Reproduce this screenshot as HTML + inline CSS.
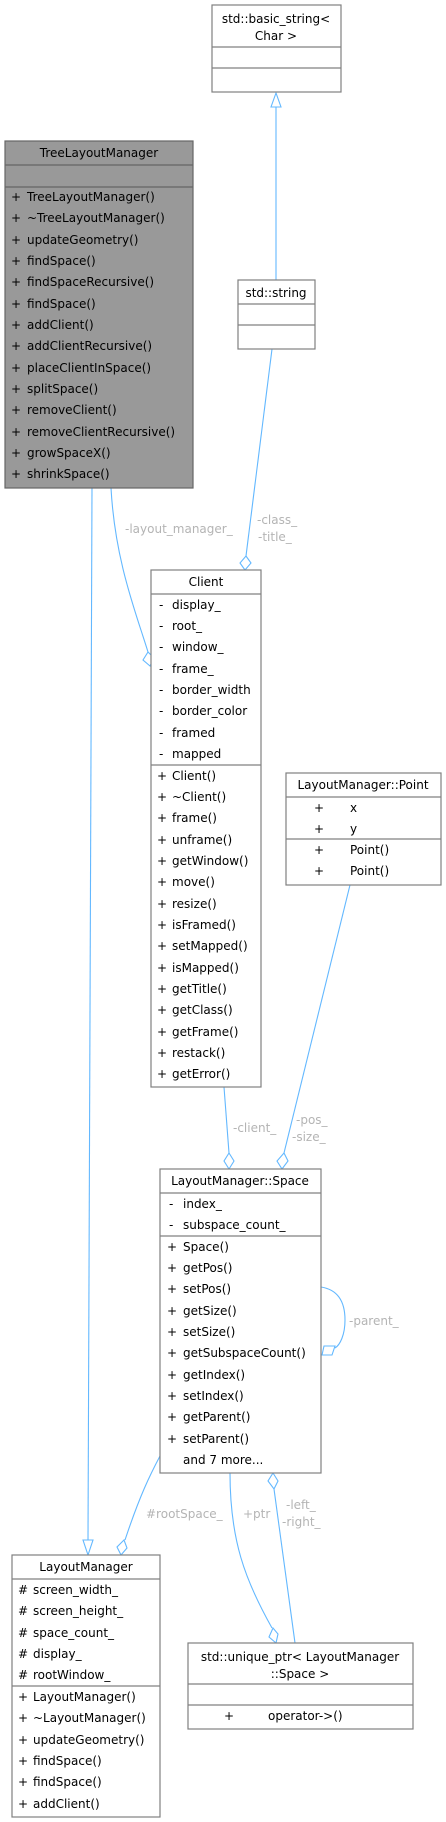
<!DOCTYPE html>
<html><head><meta charset="utf-8"><style>
html,body{margin:0;padding:0;background:#fff}
svg{display:block}
text{font-family:"DejaVu Sans","Liberation Sans",sans-serif;font-size:12px;fill:#000}
.l{fill:#b4b4b4}
.b{fill:#fff;stroke:#808080;stroke-width:1.2}
.s{stroke:#808080;stroke-width:1.2}
.e{fill:none;stroke:#63b8ff;stroke-width:1.1}
.d{fill:#fff;stroke:#63b8ff;stroke-width:1.1}
</style></head><body>
<svg width="446" height="1822" viewBox="0 0 446 1822" xmlns="http://www.w3.org/2000/svg">
<!-- edges -->
<path class="e" d="M276 280 L276 107"/>
<polygon class="d" points="276,93 271,107 281,107"/>
<path class="e" d="M272 349 L246 556"/>
<polygon class="d" points="245,570 240,563 246,556 251,563"/>
<path class="e" d="M111 488 C115 560,135 610,148 652"/>
<polygon class="d" points="150,666 143,660 148,652 154,658"/>
<path class="e" d="M92 488 L88 1540"/>
<polygon class="d" points="88,1555 83,1540 93,1540"/>
<path class="e" d="M224 1087 L229 1153"/>
<polygon class="d" points="229,1169 224,1161 229,1153 234,1161"/>
<path class="e" d="M350 885 L284 1153"/>
<polygon class="d" points="282,1169 277,1161 284,1153 288,1161"/>
<path class="e" d="M321 1287 C340 1290,345 1305,345 1320 C345 1335,340 1345,335 1348"/>
<polygon class="d" points="322,1355 324,1346 335,1346 332,1355"/>
<path class="e" d="M160 1456 C150 1475,140 1495,125 1540"/>
<polygon class="d" points="121,1555 117,1547 124,1540 127,1548"/>
<path class="e" d="M230 1473 C230 1540,245 1580,272 1628"/>
<polygon class="d" points="276,1643 269,1637 273,1628 278,1634"/>
<path class="e" d="M295 1643 L274 1489"/>
<polygon class="d" points="273,1473 278,1481 274,1489 268,1481"/>
<!-- edge labels -->
<text class="l" x="257" y="524">-class_</text>
<text class="l" x="258" y="541">-title_</text>
<text class="l" x="125" y="533">-layout_manager_</text>
<text class="l" x="233" y="1132">-client_</text>
<text class="l" x="296" y="1124">-pos_</text>
<text class="l" x="292" y="1141">-size_</text>
<text class="l" x="349" y="1325">-parent_</text>
<text class="l" x="146" y="1518">#rootSpace_</text>
<text class="l" x="243" y="1518">+ptr</text>
<text class="l" x="286" y="1509">-left_</text>
<text class="l" x="282" y="1526">-right_</text>

<!-- basic_string -->
<rect class="b" x="212" y="5" width="129" height="87"/>
<line class="s" x1="212" y1="47" x2="341" y2="47"/>
<line class="s" x1="212" y1="68" x2="341" y2="68"/>
<text x="276" y="23" text-anchor="middle">std::basic_string&lt;</text>
<text x="276" y="40" text-anchor="middle">Char &gt;</text>

<!-- std::string -->
<rect class="b" x="238" y="280" width="77" height="69"/>
<line class="s" x1="238" y1="304" x2="315" y2="304"/>
<line class="s" x1="238" y1="325" x2="315" y2="325"/>
<text x="276" y="297" text-anchor="middle">std::string</text>

<!-- TreeLayoutManager -->
<rect x="5" y="141" width="188" height="347" fill="#999999" stroke="#666" stroke-width="1.2"/>
<line x1="5" y1="165" x2="193" y2="165" stroke="#666" stroke-width="1.2"/>
<line x1="5" y1="187" x2="193" y2="187" stroke="#666" stroke-width="1.2"/>
<text x="99" y="157" text-anchor="middle">TreeLayoutManager</text>
<g>
<text x="11" y="201">+</text><text x="27" y="201">TreeLayoutManager()</text>
<text x="11" y="222">+</text><text x="27" y="222">~TreeLayoutManager()</text>
<text x="11" y="244">+</text><text x="27" y="244">updateGeometry()</text>
<text x="11" y="265">+</text><text x="27" y="265">findSpace()</text>
<text x="11" y="286">+</text><text x="27" y="286">findSpaceRecursive()</text>
<text x="11" y="308">+</text><text x="27" y="308">findSpace()</text>
<text x="11" y="329">+</text><text x="27" y="329">addClient()</text>
<text x="11" y="350">+</text><text x="27" y="350">addClientRecursive()</text>
<text x="11" y="372">+</text><text x="27" y="372">placeClientInSpace()</text>
<text x="11" y="393">+</text><text x="27" y="393">splitSpace()</text>
<text x="11" y="414">+</text><text x="27" y="414">removeClient()</text>
<text x="11" y="436">+</text><text x="27" y="436">removeClientRecursive()</text>
<text x="11" y="457">+</text><text x="27" y="457">growSpaceX()</text>
<text x="11" y="478">+</text><text x="27" y="478">shrinkSpace()</text>
</g>

<!-- Client -->
<rect class="b" x="151" y="570" width="110" height="517"/>
<line class="s" x1="151" y1="594" x2="261" y2="594"/>
<line class="s" x1="151" y1="765" x2="261" y2="765"/>
<text x="206" y="586" text-anchor="middle">Client</text>
<g>
<text x="159" y="609">-</text><text x="172" y="609">display_</text>
<text x="159" y="630">-</text><text x="172" y="630">root_</text>
<text x="159" y="651">-</text><text x="172" y="651">window_</text>
<text x="159" y="673">-</text><text x="172" y="673">frame_</text>
<text x="159" y="694">-</text><text x="172" y="694">border_width</text>
<text x="159" y="715">-</text><text x="172" y="715">border_color</text>
<text x="159" y="737">-</text><text x="172" y="737">framed</text>
<text x="159" y="758">-</text><text x="172" y="758">mapped</text>
<text x="157" y="780">+</text><text x="172" y="780">Client()</text>
<text x="157" y="801">+</text><text x="172" y="801">~Client()</text>
<text x="157" y="822">+</text><text x="172" y="822">frame()</text>
<text x="157" y="844">+</text><text x="172" y="844">unframe()</text>
<text x="157" y="865">+</text><text x="172" y="865">getWindow()</text>
<text x="157" y="886">+</text><text x="172" y="886">move()</text>
<text x="157" y="908">+</text><text x="172" y="908">resize()</text>
<text x="157" y="929">+</text><text x="172" y="929">isFramed()</text>
<text x="157" y="950">+</text><text x="172" y="950">setMapped()</text>
<text x="157" y="972">+</text><text x="172" y="972">isMapped()</text>
<text x="157" y="993">+</text><text x="172" y="993">getTitle()</text>
<text x="157" y="1014">+</text><text x="172" y="1014">getClass()</text>
<text x="157" y="1036">+</text><text x="172" y="1036">getFrame()</text>
<text x="157" y="1057">+</text><text x="172" y="1057">restack()</text>
<text x="157" y="1078">+</text><text x="172" y="1078">getError()</text>
</g>

<!-- Point -->
<rect class="b" x="286" y="773" width="155" height="112"/>
<line class="s" x1="286" y1="797" x2="441" y2="797"/>
<line class="s" x1="286" y1="839" x2="441" y2="839"/>
<text x="363" y="789" text-anchor="middle">LayoutManager::Point</text>
<text x="314" y="812">+</text><text x="350" y="812">x</text>
<text x="314" y="833">+</text><text x="350" y="833">y</text>
<text x="314" y="854">+</text><text x="350" y="854">Point()</text>
<text x="314" y="875">+</text><text x="350" y="875">Point()</text>

<!-- Space -->
<rect class="b" x="160" y="1169" width="161" height="304"/>
<line class="s" x1="160" y1="1193" x2="321" y2="1193"/>
<line class="s" x1="160" y1="1236" x2="321" y2="1236"/>
<text x="240" y="1185" text-anchor="middle">LayoutManager::Space</text>
<g>
<text x="169" y="1208">-</text><text x="183" y="1208">index_</text>
<text x="169" y="1229">-</text><text x="183" y="1229">subspace_count_</text>
<text x="167" y="1251">+</text><text x="183" y="1251">Space()</text>
<text x="167" y="1272">+</text><text x="183" y="1272">getPos()</text>
<text x="167" y="1293">+</text><text x="183" y="1293">setPos()</text>
<text x="167" y="1315">+</text><text x="183" y="1315">getSize()</text>
<text x="167" y="1336">+</text><text x="183" y="1336">setSize()</text>
<text x="167" y="1357">+</text><text x="183" y="1357">getSubspaceCount()</text>
<text x="167" y="1379">+</text><text x="183" y="1379">getIndex()</text>
<text x="167" y="1400">+</text><text x="183" y="1400">setIndex()</text>
<text x="167" y="1421">+</text><text x="183" y="1421">getParent()</text>
<text x="167" y="1443">+</text><text x="183" y="1443">setParent()</text>
<text x="183" y="1464">and 7 more...</text>
</g>

<!-- LayoutManager -->
<rect class="b" x="12" y="1555" width="148" height="262"/>
<line class="s" x1="12" y1="1579" x2="160" y2="1579"/>
<line class="s" x1="12" y1="1686" x2="160" y2="1686"/>
<text x="86" y="1571" text-anchor="middle">LayoutManager</text>
<g>
<text x="18" y="1594">#</text><text x="33" y="1594">screen_width_</text>
<text x="18" y="1615">#</text><text x="33" y="1615">screen_height_</text>
<text x="18" y="1637">#</text><text x="33" y="1637">space_count_</text>
<text x="18" y="1658">#</text><text x="33" y="1658">display_</text>
<text x="18" y="1679">#</text><text x="33" y="1679">rootWindow_</text>
<text x="18" y="1701">+</text><text x="33" y="1701">LayoutManager()</text>
<text x="18" y="1722">+</text><text x="33" y="1722">~LayoutManager()</text>
<text x="18" y="1744">+</text><text x="33" y="1744">updateGeometry()</text>
<text x="18" y="1765">+</text><text x="33" y="1765">findSpace()</text>
<text x="18" y="1786">+</text><text x="33" y="1786">findSpace()</text>
<text x="18" y="1808">+</text><text x="33" y="1808">addClient()</text>
</g>

<!-- unique_ptr -->
<rect class="b" x="188" y="1643" width="225" height="86"/>
<line class="s" x1="188" y1="1684" x2="413" y2="1684"/>
<line class="s" x1="188" y1="1705" x2="413" y2="1705"/>
<text x="300" y="1661" text-anchor="middle">std::unique_ptr&lt; LayoutManager</text>
<text x="300" y="1678" text-anchor="middle">::Space &gt;</text>
<text x="224" y="1720">+</text><text x="268" y="1720">operator-&gt;()</text>
</svg>
</body></html>
